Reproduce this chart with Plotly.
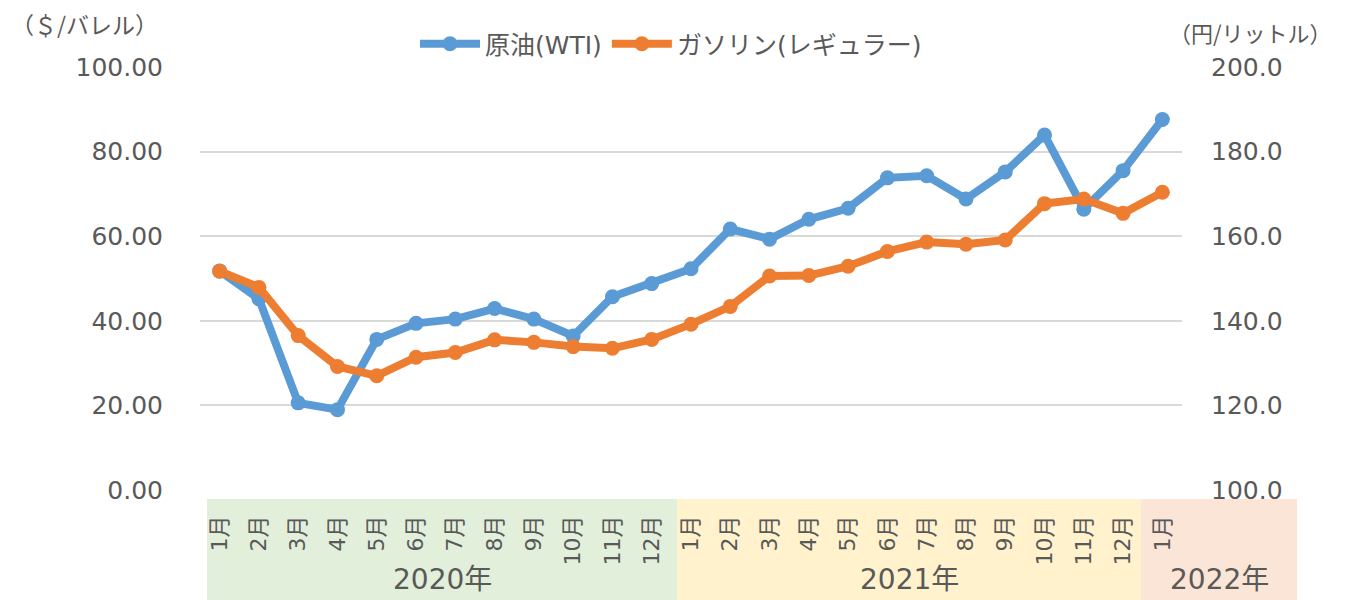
import plotly.graph_objects as go

months = ["1月", "2月", "3月", "4月", "5月", "6月", "7月", "8月", "9月", "10月", "11月", "12月",
          "1月", "2月", "3月", "4月", "5月", "6月", "7月", "8月", "9月", "10月", "11月", "12月",
          "1月"]
years = ["2020年", "2021年", "2022年"]
wti = [51.8, 45.2, 20.6, 19.0, 35.6, 39.4, 40.4, 42.9, 40.4, 36.4, 45.7, 48.8,
       52.3, 61.7, 59.3, 64.0, 66.6, 73.8, 74.3, 68.8, 75.2, 83.9, 66.4, 75.5, 87.6]
gasoline = [151.7, 147.9, 136.5, 129.2, 127.0, 131.4, 132.5, 135.5, 134.9, 133.9, 133.5, 135.6,
            139.2, 143.4, 150.6, 150.7, 152.9, 156.4, 158.6, 158.1, 159.1, 167.7, 168.8, 165.4, 170.4]

BLUE = "#5B9BD5"
ORANGE = "#ED7D31"
GRAY = "#595959"
FONT = "DejaVu Sans, Noto Sans CJK JP, sans-serif"

# page offset (body margin) and figure size
OFF = 8
FW, FH = 1347 - OFF, 600 - OFF

# plot area in page pixels
L, R, T, B = 200, 1182, 67, 490
W, H = R - L, B - T

def px(x):
    return (x - L) / W

def py(y):
    return (B - y) / H

xs = list(range(len(months)))

fig = go.Figure()
fig.add_trace(go.Scatter(x=xs, y=wti, name="原油(WTI)", mode="lines+markers",
                         line=dict(color=BLUE, width=8), marker=dict(color=BLUE, size=15),
                         yaxis="y"))
fig.add_trace(go.Scatter(x=xs, y=gasoline, name="ガソリン(レギュラー)", mode="lines+markers",
                         line=dict(color=ORANGE, width=8), marker=dict(color=ORANGE, size=15),
                         yaxis="y2"))

band_colors = ["#E2EFDA", "#FFF2CC", "#FBE5D6"]
band_edges = [207, 677, 1141, 1297]
shapes = []
annotations = []
for i in range(3):
    shapes.append(dict(type="rect", xref="paper", yref="paper",
                       x0=px(band_edges[i]), x1=px(band_edges[i + 1]),
                       y0=py(499), y1=py(605), fillcolor=band_colors[i],
                       line=dict(width=0), layer="below"))
    annotations.append(dict(text=years[i], xref="paper", yref="paper",
                            x=px((band_edges[i] + band_edges[i + 1]) / 2), y=py(579),
                            xanchor="center", yanchor="middle", showarrow=False,
                            font=dict(family=FONT, size=28, color=GRAY)))

annotations.append(dict(text="（＄/バレル）", xref="paper", yref="paper", x=px(9), y=py(24),
                        xanchor="left", yanchor="middle", showarrow=False,
                        font=dict(family="Noto Sans CJK JP", size=23, color=GRAY)))
annotations.append(dict(text="（円/リットル）", xref="paper", yref="paper", x=px(1167), y=py(32),
                        xanchor="left", yanchor="middle", showarrow=False,
                        font=dict(family="Noto Sans CJK JP", size=22, color=GRAY)))

fig.update_layout(
    width=FW, height=FH,
    margin=dict(l=L - OFF, r=FW - (R - OFF), t=T - OFF, b=FH - (B - OFF), autoexpand=False),
    paper_bgcolor="white", plot_bgcolor="white",
    showlegend=True,
    legend=dict(orientation="h", x=px(671), y=py(44), xanchor="center", yanchor="middle",
                font=dict(family=FONT, size=25, color=GRAY), itemwidth=60,
                bgcolor="rgba(0,0,0,0)"),
    xaxis=dict(tickmode="array", tickvals=xs, ticktext=months, range=[-0.5, len(months) - 0.5],
               tickangle=-90, showgrid=False, zeroline=False, showline=False,
               ticks="", ticklabelstandoff=20,
               tickfont=dict(family=FONT, size=22, color=GRAY)),
    yaxis=dict(range=[0, 100], dtick=20, tickformat=".2f", showgrid=True,
               gridcolor="#D9D9D9", gridwidth=2, zeroline=False, showline=False,
               ticks="", ticklabelstandoff=36,
               tickfont=dict(family=FONT, size=25, color=GRAY)),
    yaxis2=dict(range=[100, 200], dtick=20, tickformat=".1f", overlaying="y", side="right",
                showgrid=False, zeroline=False, showline=False, ticks="",
                ticklabelstandoff=28,
                tickfont=dict(family=FONT, size=25, color=GRAY)),
    shapes=shapes,
    annotations=annotations,
)

fig.write_html("out.html")
